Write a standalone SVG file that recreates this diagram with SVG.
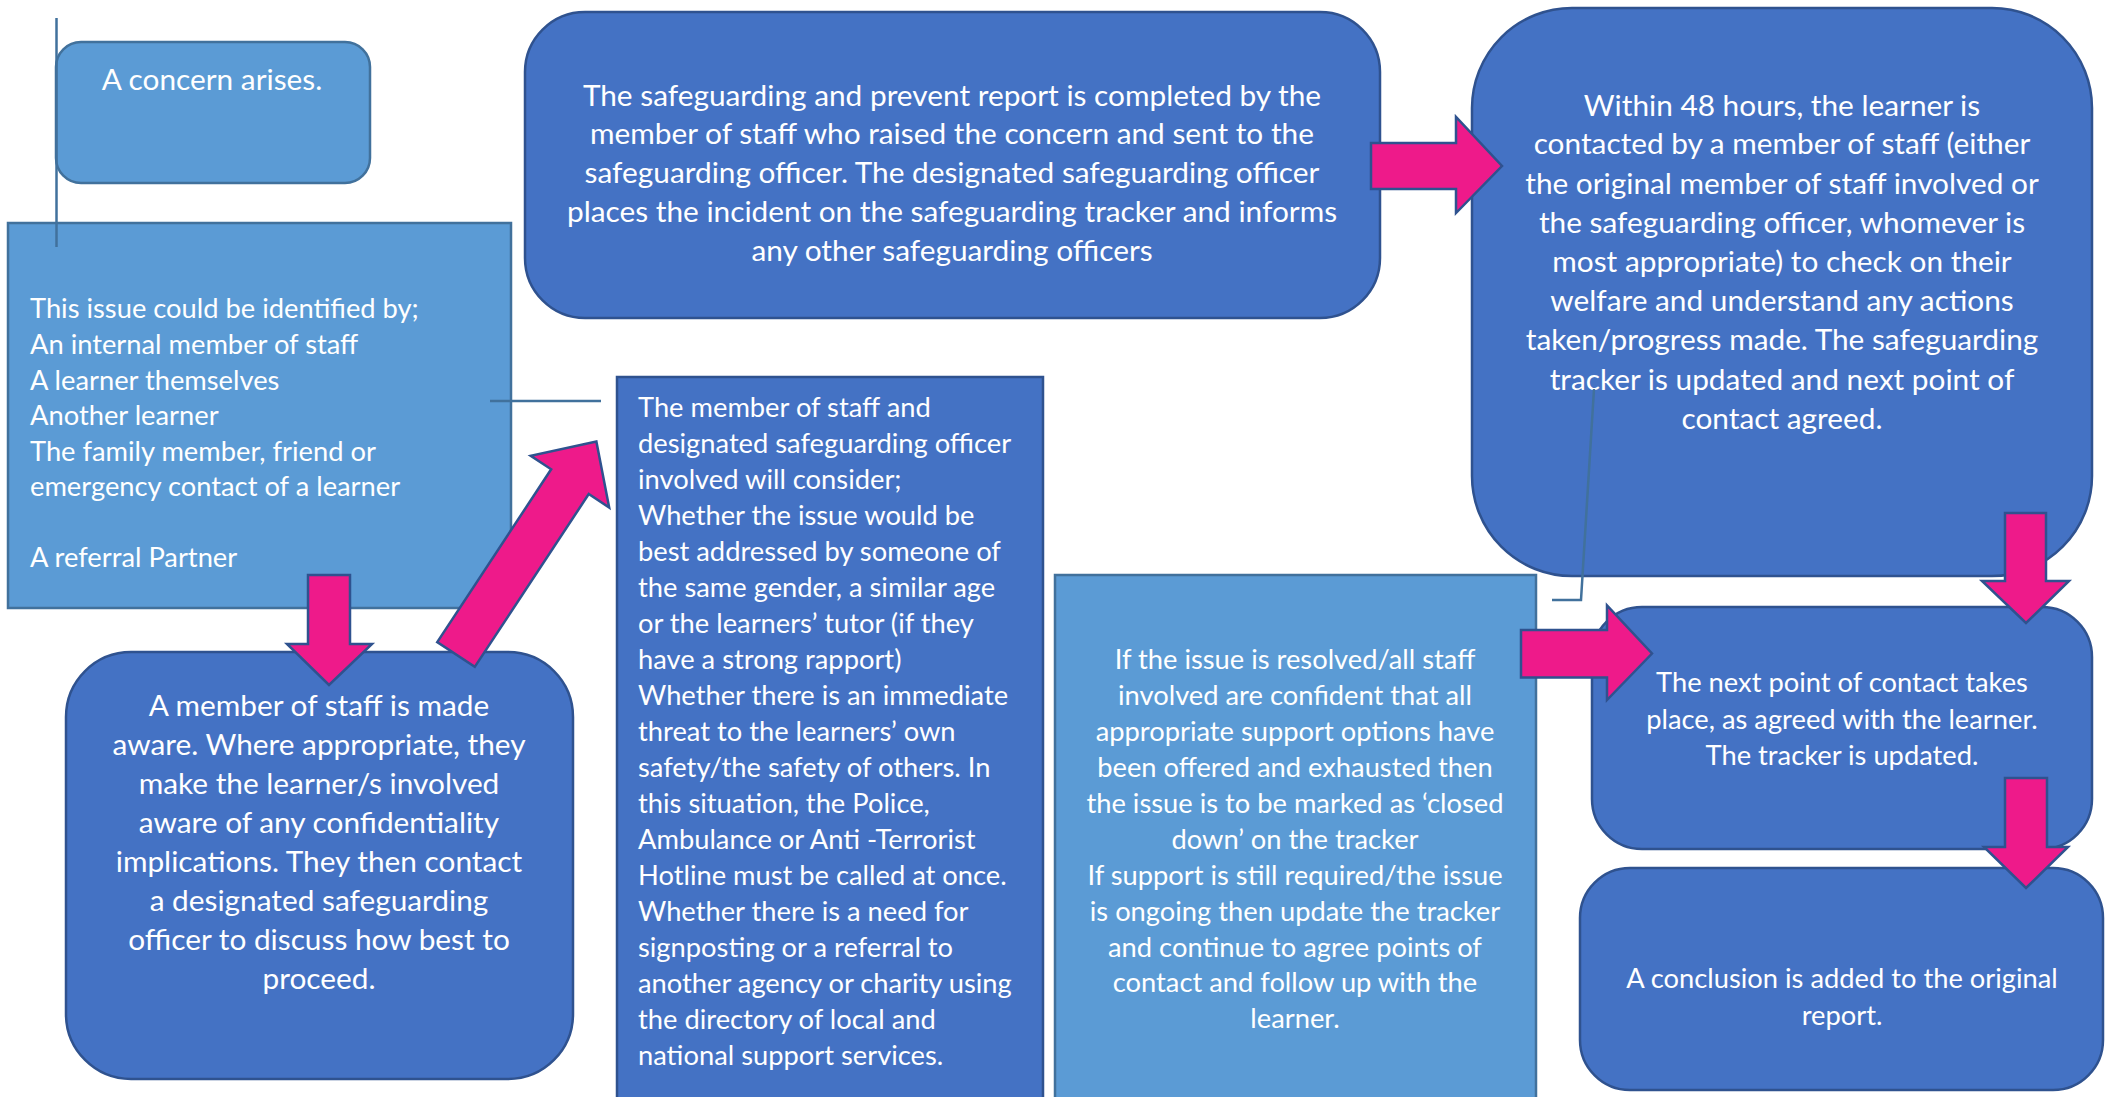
<svg xmlns="http://www.w3.org/2000/svg" width="2112" height="1097" viewBox="0 0 2112 1097">
<style>
.light{fill:#5B9BD5;stroke:#41719C;stroke-width:2.5}
.dark{fill:#4472C4;stroke:#2F528F;stroke-width:2.5}
.arrow{fill:#EE1A8A;stroke:#2F528F;stroke-width:2.5;stroke-linejoin:miter}
.line{fill:none;stroke:#41719C;stroke-width:2.5}
text{font-family:Lato,"Open Sans","Liberation Sans",sans-serif;font-size:27.3px;fill:#FFFFFF}
.big text{font-size:29.8px}
.c{text-anchor:middle}
</style>
<rect width="2112" height="1097" fill="#FFFFFF"/>
<g id="concern" class="big">
<rect class="light" x="56" y="42" width="314" height="141" rx="25"/>
<text class="c" x="212" y="90">A concern arises.</text>
</g>
<g id="identified">
<rect class="light" x="8" y="223" width="503" height="385"/>
<text x="30" y="318">This issue could be identified by;</text>
<text x="30" y="354">An internal member of staff</text>
<text x="30" y="389.5">A learner themselves</text>
<text x="30" y="425">Another learner</text>
<text x="30" y="461">The family member, friend or</text>
<text x="30" y="496">emergency contact of a learner</text>
<text x="30" y="567">A referral Partner</text>
</g>
<g id="report" class="big">
<rect class="dark" x="525" y="12" width="855" height="306" rx="60"/>
<text class="c" x="952" y="106">The safeguarding and prevent report is completed by the</text>
<text class="c" x="952" y="144">member of staff who raised the concern and sent to the</text>
<text class="c" x="952" y="183">safeguarding officer. The designated safeguarding officer</text>
<text class="c" x="952" y="222">places the incident on the safeguarding tracker and informs</text>
<text class="c" x="952" y="261">any other safeguarding officers</text>
</g>
<g id="within48" class="big">
<rect class="dark" x="1472" y="8" width="620" height="568" rx="100"/>
<text class="c" x="1782" y="115.5">Within 48 hours, the learner is</text>
<text class="c" x="1782" y="154">contacted by a member of staff (either</text>
<text class="c" x="1782" y="194">the original member of staff involved or</text>
<text class="c" x="1782" y="232.5">the safeguarding officer, whomever is</text>
<text class="c" x="1782" y="272">most appropriate) to check on their</text>
<text class="c" x="1782" y="311">welfare and understand any actions</text>
<text class="c" x="1782" y="350">taken/progress made. The safeguarding</text>
<text class="c" x="1782" y="389.5">tracker is updated and next point of</text>
<text class="c" x="1782" y="429">contact agreed.</text>
</g>
<g id="consider">
<rect class="dark" x="617" y="377" width="426" height="740"/>
<text x="638" y="417">The member of staff and</text>
<text x="638" y="453">designated safeguarding officer</text>
<text x="638" y="489">involved will consider;</text>
<text x="638" y="525">Whether the issue would be</text>
<text x="638" y="561">best addressed by someone of</text>
<text x="638" y="597">the same gender, a similar age</text>
<text x="638" y="633">or the learners’ tutor (if they</text>
<text x="638" y="669">have a strong rapport)</text>
<text x="638" y="705">Whether there is an immediate</text>
<text x="638" y="741">threat to the learners’ own</text>
<text x="638" y="777">safety/the safety of others. In</text>
<text x="638" y="813">this situation, the Police,</text>
<text x="638" y="849">Ambulance or Anti -Terrorist</text>
<text x="638" y="885">Hotline must be called at once.</text>
<text x="638" y="921">Whether there is a need for</text>
<text x="638" y="957">signposting or a referral to</text>
<text x="638" y="993">another agency or charity using</text>
<text x="638" y="1029">the directory of local and</text>
<text x="638" y="1065">national support services.</text>
</g>
<g id="aware" class="big">
<rect class="dark" x="66" y="652" width="507" height="427" rx="65"/>
<text class="c" x="319" y="716">A member of staff is made</text>
<text class="c" x="319" y="755">aware. Where appropriate, they</text>
<text class="c" x="319" y="794">make the learner/s involved</text>
<text class="c" x="319" y="833">aware of any confidentiality</text>
<text class="c" x="319" y="872">implications. They then contact</text>
<text class="c" x="319" y="911">a designated safeguarding</text>
<text class="c" x="319" y="950">officer to discuss how best to</text>
<text class="c" x="319" y="989">proceed.</text>
</g>
<g id="resolved">
<rect class="light" x="1055" y="575" width="481" height="540"/>
<text class="c" x="1295" y="669">If the issue is resolved/all staff</text>
<text class="c" x="1295" y="705">involved are confident that all</text>
<text class="c" x="1295" y="741">appropriate support options have</text>
<text class="c" x="1295" y="777">been offered and exhausted then</text>
<text class="c" x="1295" y="813">the issue is to be marked as ‘closed</text>
<text class="c" x="1295" y="849">down’ on the tracker</text>
<text class="c" x="1295" y="885">If support is still required/the issue</text>
<text class="c" x="1295" y="921">is ongoing then update the tracker</text>
<text class="c" x="1295" y="957">and continue to agree points of</text>
<text class="c" x="1295" y="992">contact and follow up with the</text>
<text class="c" x="1295" y="1028">learner.</text>
</g>
<g id="nextpoint">
<rect class="dark" x="1592" y="607" width="500" height="242" rx="50"/>
<text class="c" x="1842" y="692">The next point of contact takes</text>
<text class="c" x="1842" y="728.5">place, as agreed with the learner.</text>
<text class="c" x="1842" y="764.5">The tracker is updated.</text>
</g>
<g id="conclusion">
<rect class="dark" x="1580" y="868" width="523" height="222" rx="50"/>
<text class="c" x="1842" y="988">A conclusion is added to the original</text>
<text class="c" x="1842" y="1025">report.</text>
</g>
<g id="connectors">
<line class="line" x1="56.5" y1="18" x2="56.5" y2="247"/>
<line class="line" x1="490" y1="401" x2="601" y2="401"/>
<polyline class="line" points="1594,389 1581,600 1552,600"/>
<polygon class="arrow" points="1371,143 1456,143 1456,117 1502,166 1456,213 1456,189 1371,189"/>
<polygon class="arrow" points="1521,630 1607,630 1607,605.5 1652,653.5 1607,700 1607,677.5 1521,677.5"/>
<polygon class="arrow" points="308,575 350,575 350,644 372,644 329,685 287,644 308,644"/>
<polygon class="arrow" points="2005,513 2046,513 2046,581 2069,581 2026,623 1982,581 2005,581"/>
<polygon class="arrow" points="2005,778 2047,778 2047,847 2068,847 2026,888 1984,847 2005,847"/>
<polygon class="arrow" transform="translate(456,654.5) rotate(-56.6)" points="0,-22.5 207,-22.5 207,-47 255,0 207,47 207,22.5 0,22.5"/>
</g>
</svg>
